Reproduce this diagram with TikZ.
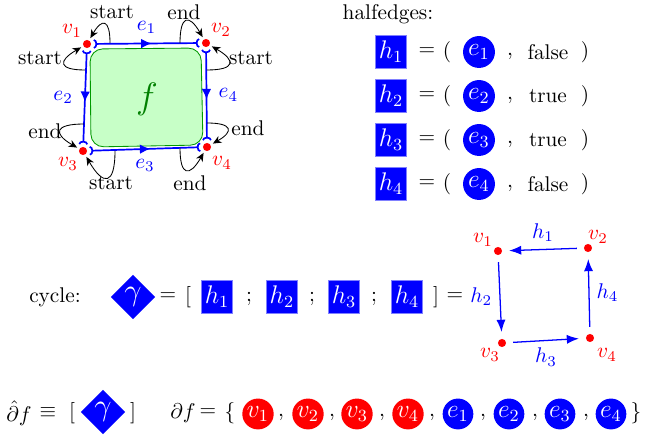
\documentclass[tikz,border=0pt]{standalone}
\usepackage{amsmath,amssymb}
\usetikzlibrary{positioning,arrows.meta,shapes.geometric,decorations.markings}

\begin{document}
\begin{tikzpicture}[
  x=0.47pt, y=-0.47pt,
  >=Latex,
  vtx/.style={circle, fill=red, inner sep=0pt, minimum size=3.8pt, outer sep=1.3pt},
  vlbl/.style={text=red},
  edge/.style={blue, thick, {Arc Barb[reversed,length=1.6pt,width=4.5pt]}-{Arc Barb[reversed,length=1.6pt,width=4.5pt]},
    postaction={decorate}, decoration={markings, mark=at position 0.55 with {\arrow{Latex[length=5pt,width=4.5pt]}}}},
  hop/.style={-{Stealth[length=4pt,width=3.5pt]}, black},
  hbox/.style={fill=blue, draw=blue!50, text=white, font=\large, minimum width=14.6pt, minimum height=15.5pt, inner sep=0pt},
  ebox/.style={circle, fill=blue, text=white, font=\large, minimum size=15pt, inner sep=0pt},
  cyc/.style={diamond, fill=blue, text=white, font=\Large, inner sep=0pt, minimum width=21pt, minimum height=21pt},
  vel/.style={ellipse, fill=red, text=white, font=\large, inner sep=0pt, minimum width=13.5pt, minimum height=14.5pt},
  eel/.style={vel, fill=blue},
  hedge/.style={blue, semithick, ->, shorten >=2pt, shorten <=2pt}
]
\useasboundingbox (0,0) rectangle (658,437);

% face
\filldraw[fill=green!22, draw=green!60!black, rounded corners=6pt] (90,49) -- (201,48) -- (203,145) -- (91,147) -- cycle;
\node[text=green!50!black, font=\LARGE] (f) at (147,99) {$f$};

% vertices
\node[vtx] (v1) at (87,44) {};
\node[vtx] (v2) at (206,43) {};
\node[vtx] (v3) at (83,151) {};
\node[vtx] (v4) at (207,147) {};
\node[vlbl] (lv1) at (72,31) {$v_1$};
\node[vlbl] (lv2) at (221,30) {$v_2$};
\node[vlbl] (lv3) at (68,164) {$v_3$};
\node[vlbl] (lv4) at (222,163) {$v_4$};

% edges
\draw[edge] (v1) -- node[above=1pt] (le1) {$e_1$} (v2);
\draw[edge] (v1) -- node[left=2pt] (le2) {$e_2$} (v3);
\draw[edge] (v3) -- node[below=1pt] (le3) {$e_3$} (v4);
\draw[edge] (v2) -- node[right=2pt] (le4) {$e_4$} (v4);

% start / end
\coordinate (a1) at (110,43);
\coordinate (a2) at (85,70);
\coordinate (a3) at (180,43);
\coordinate (a4) at (207,70);
\coordinate (a5) at (84,124);
\coordinate (a6) at (115,151);
\coordinate (a7) at (207,123);
\coordinate (a8) at (180,148);
\draw[hop] (a1) to[out=90,in=60,looseness=3] (v1);
\draw[hop] (a2) to[out=180,in=210,looseness=3] (v1);
\draw[hop] (a3) to[out=90,in=120,looseness=3] (v2);
\draw[hop] (a4) to[out=0,in=-30,looseness=3] (v2);
\draw[hop] (a5) to[out=180,in=150,looseness=3] (v3);
\draw[hop] (a6) to[out=-90,in=-60,looseness=3] (v3);
\draw[hop] (a7) to[out=0,in=30,looseness=3] (v4);
\draw[hop] (a8) to[out=-90,in=-120,looseness=3] (v4);
\node (s1) at (112,12) {start};
\node (s2) at (40,58) {start};
\node (s3) at (184,12) {end};
\node (s4) at (251,58) {start};
\node (s5) at (45,131) {end};
\node (s6) at (111,183) {start};
\node (s7) at (248,128) {end};
\node (s8) at (190,183) {end};

% halfedges
\node (hlbl) at (388,14) {halfedges:};
\foreach \i/\b/\y in {1/false/52, 2/true/96, 3/true/140, 4/false/184} {
  \node[hbox] (h\i) at (391,\y) {$h_{\i}$};
  \node (eq\i) at (427,\y) {$=$};
  \node (lp\i) at (447,\y) {$($};
  \node[ebox] (e\i) at (479,\y) {$e_{\i}$};
  \node (cm\i) at (510,\y+4) {$,$};
  \node (b\i) at (548,\y) {\b};
  \node (rp\i) at (585,\y) {$)$};
}

% cycle
\node (cyclbl) at (55,297) {cycle:};
\node[cyc] (g1) at (133,297) {$\gamma$};
\node (eqc) at (168,297) {$=$};
\node (lbc) at (188,297) {$[$};
\foreach \i/\x in {1/217, 2/282, 3/344, 4/407}
  \node[hbox] (c\i) at (\x,297) {$h_{\i}$};
\foreach \i/\x in {1/249, 2/312, 3/374}
  \node (sc\i) at (\x,299) {$;$};
\node (rbc) at (436,297) {$]$};
\node (eqr) at (455,297) {$=$};

\node[vtx] (w1) at (498,251) {};
\node[vtx] (w2) at (588,248) {};
\node[vtx] (w3) at (502,343) {};
\node[vtx] (w4) at (590,338) {};
\node[vlbl] (lw1) at (483,240) {$v_1$};
\node[vlbl] (lw2) at (598,237) {$v_2$};
\node[vlbl] (lw3) at (490,355) {$v_3$};
\node[vlbl] (lw4) at (607,355) {$v_4$};
\draw[hedge] (w2) -- node[above] (lh1) {$h_1$} (w1);
\draw[hedge] (w1) -- node[left] (lh2) {$h_2$} (w3);
\draw[hedge] (w3) -- node[below] (lh3) {$h_3$} (w4);
\draw[hedge] (w4) -- node[right] (lh4) {$h_4$} (w2);

% boundary
\node (dhat) at (19,413) {$\hat{\partial} f$};
\node (equiv) at (48,413) {$\equiv$};
\node (lbb) at (72,413) {$[$};
\node[cyc] (g2) at (103,412) {$\gamma$};
\node (rbb) at (133,413) {$]$};
\node (pf) at (183,413) {$\partial f$};
\node (eqb) at (208,413) {$=$};
\node (lcb) at (230,413) {$\{$};
\foreach \i/\x in {1/258, 2/308, 3/357, 4/408}
  \node[vel] (bv\i) at (\x,414) {$v_{\i}$};
\foreach \i/\x in {1/458, 2/509, 3/560, 4/611}
  \node[eel] (be\i) at (\x,414) {$e_{\i}$};
\foreach \i/\x in {1/281, 2/332, 3/382, 4/432, 5/483, 6/535, 7/586}
  \node (bc\i) at (\x,417) {$,$};
\node (rcb) at (636,413) {$\}$};
\end{tikzpicture}
\end{document}
